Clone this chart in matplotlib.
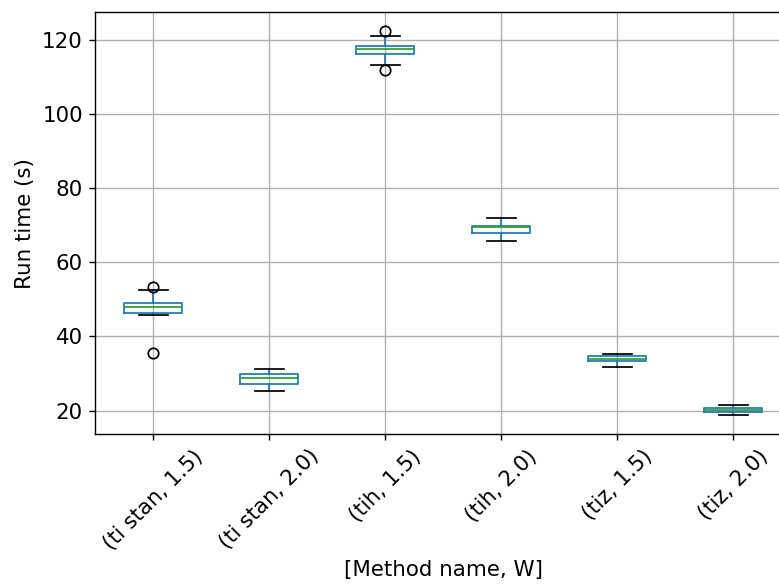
import matplotlib
matplotlib.use("Agg")
import matplotlib.pyplot as plt

# box statistics
labels = ["(ti stan, 1.5)", "(ti stan, 2.0)", "(tih, 1.5)",
          "(tih, 2.0)", "(tiz, 1.5)", "(tiz, 2.0)"]
q1 = [46.4, 27.3, 116.0, 68.0, 33.4, 19.7]
med = [48.0, 28.8, 117.4, 69.4, 34.0, 20.2]
q3 = [49.0, 30.0, 118.2, 69.8, 34.7, 20.6]
whislo = [45.8, 25.4, 113.1, 65.7, 31.8, 18.9]
whishi = [52.6, 31.2, 121.1, 72.0, 35.2, 21.6]
fliers = [[53.3, 35.5], [], [122.2, 111.9], [], [], []]

stats = []
for i in range(len(labels)):
    stats.append(dict(label=labels[i], q1=q1[i], med=med[i], q3=q3[i],
                      whislo=whislo[i], whishi=whishi[i], fliers=fliers[i]))

s = 1.25  # looks like the original was saved at a higher dpi
plt.rcParams['font.size'] = 15.4
plt.rcParams['xtick.major.size'] = 3.5 * s
plt.rcParams['ytick.major.size'] = 3.5 * s
plt.rcParams['xtick.major.pad'] = 3.5 * s
plt.rcParams['ytick.major.pad'] = 3.5 * s
plt.rcParams['axes.labelpad'] = 4.0 * s
plt.rcParams['axes.linewidth'] = 0.8 * s
plt.rcParams['grid.linewidth'] = 0.8 * s
plt.rcParams['xtick.major.width'] = 0.8 * s
plt.rcParams['ytick.major.width'] = 0.8 * s

fig = plt.figure(figsize=(7.79, 5.84), dpi=100)
ax = fig.add_axes([0.122, 0.257, 0.8935, 0.722])

lw = 1.0 * s
ax.bxp(stats, widths=0.5,
       boxprops=dict(color='#1f77b4', linewidth=lw),
       whiskerprops=dict(color='#1f77b4', linewidth=lw),
       medianprops=dict(color='#2ca02c', linewidth=lw),
       capprops=dict(color='k', linewidth=lw),
       flierprops=dict(marker='o', markerfacecolor='none', markeredgecolor='k',
                       markersize=6 * s, markeredgewidth=lw))

ax.grid(True)
ax.set_axisbelow(True)
ax.set_ylabel('Run time (s)')
ax.set_xlabel('[Method name, W]')
plt.setp(ax.get_xticklabels(), rotation=45, ha='center', rotation_mode='default')

fig.savefig('out.png', dpi=100)
